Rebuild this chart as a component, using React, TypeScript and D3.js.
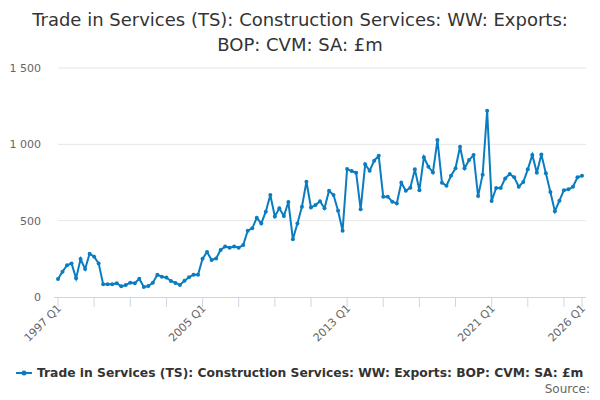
import { useEffect, useRef } from 'react'
import * as d3 from 'd3'

const values: number[] = [
  118, 166, 208, 220, 122, 249, 183, 284, 264, 220, 83, 83, 83, 90, 70, 78,
  94, 90, 120, 65, 72, 94, 146, 133, 127, 105, 92, 79, 107, 129, 146, 146,
  251, 295, 242, 253, 308, 330, 323, 330, 323, 340, 434, 450, 519, 482, 559, 668,
  528, 581, 530, 622, 378, 482, 591, 755, 587, 602, 627, 581, 696, 668, 565, 434,
  838, 825, 814, 574, 869, 827, 893, 925, 657, 657, 624, 613, 749, 696, 716, 836,
  700, 915, 853, 816, 1028, 749, 729, 794, 843, 984, 843, 897, 930, 661, 801, 1220,
  629, 714, 714, 777, 805, 784, 722, 753, 836, 930, 814, 934, 810, 688, 561, 631,
  700, 705, 722, 784, 794
]
const quarters: string[] = values.map((_, i) => `${1997 + Math.floor(i / 4)} Q${(i % 4) + 1}`)
const labelledTicks = ['1997 Q1', '2005 Q1', '2013 Q1', '2021 Q1', '2026 Q1']
const yTicks = [0, 500, 1000, 1500]
const seriesName = 'Trade in Services (TS): Construction Services: WW: Exports: BOP: CVM: SA: £m'
const titleLines = ['Trade in Services (TS): Construction Services: WW: Exports:', 'BOP: CVM: SA: £m']

const W = 600
const H = 400
const FONT = '"DejaVu Sans", "Open Sans", sans-serif'

export default function App() {
  const ref = useRef<SVGSVGElement>(null)

  useEffect(() => {
    if (!ref.current) return
    const svg = d3.select(ref.current)
    svg.selectAll('*').remove()

    const left = 58, right = 582, top = 68, bottom = 297

    const x = d3.scalePoint<string>().domain(quarters).range([left, right])
    const y = d3.scaleLinear().domain([0, 1500]).range([bottom, top])

    // title
    svg.append('g').selectAll('text').data(titleLines).enter().append('text')
      .attr('x', W / 2).attr('y', (_, i) => 26 + i * 25)
      .attr('text-anchor', 'middle').attr('font-size', 18).attr('fill', '#333')
      .text(d => d)

    // gridlines
    svg.append('g').selectAll('line').data(yTicks.filter(t => t > 0)).enter().append('line')
      .attr('x1', left).attr('x2', right + 4).attr('y1', d => y(d)).attr('y2', d => y(d))
      .attr('stroke', '#e6e6e6')

    svg.append('g').selectAll('text').data(yTicks).enter().append('text')
      .attr('x', 41).attr('y', d => y(d) + 4).attr('text-anchor', 'end')
      .attr('font-size', 11).attr('fill', '#666')
      .text(d => d3.format(',')(d).replace(',', ' '))

    // x axis
    svg.append('line').attr('x1', left - 4).attr('x2', right + 4)
      .attr('y1', bottom + 0.5).attr('y2', bottom + 0.5).attr('stroke', '#ccd6eb')
    const tickQs = quarters.filter((_, i) => i % 8 === 0).concat(quarters[quarters.length - 1])
    svg.append('g').selectAll('line').data(tickQs).enter().append('line')
      .attr('x1', d => x(d)!).attr('x2', d => x(d)!)
      .attr('y1', bottom).attr('y2', bottom + 10).attr('stroke', '#ccd6eb')
    svg.append('g').selectAll('text').data(labelledTicks).enter().append('text')
      .attr('transform', d => `translate(${x(d)! + 4},${bottom + 12}) rotate(-45)`)
      .attr('text-anchor', 'end').attr('font-size', 11).attr('fill', '#666')
      .text(d => d)

    // series
    const line = d3.line<number>().x((_, i) => x(quarters[i])!).y(d => y(d))
    svg.append('path').datum(values).attr('d', line)
      .attr('fill', 'none').attr('stroke', '#0a7dc1').attr('stroke-width', 2)
    svg.append('g').selectAll('circle').data(values).enter().append('circle')
      .attr('cx', (_, i) => x(quarters[i])!).attr('cy', d => y(d)).attr('r', 2)
      .attr('fill', '#0a7dc1')

    // legend
    svg.append('line').attr('x1', 16).attr('x2', 32).attr('y1', 373).attr('y2', 373)
      .attr('stroke', '#0a7dc1').attr('stroke-width', 2)
    svg.append('circle').attr('cx', 24).attr('cy', 373).attr('r', 2.5).attr('fill', '#0a7dc1')
    svg.append('text').attr('x', 37).attr('y', 377).attr('font-size', 12.3)
      .attr('font-weight', 'bold').attr('fill', '#333').text(seriesName)
    svg.append('text').attr('x', 590).attr('y', 393).attr('text-anchor', 'end')
      .attr('font-size', 12).attr('fill', '#666').text('Source:')
  }, [])

  return (
    <svg ref={ref} width={W} height={H}
      style={{ position: 'absolute', left: 0, top: 0, fontFamily: FONT, background: '#fff' }} />
  )
}
